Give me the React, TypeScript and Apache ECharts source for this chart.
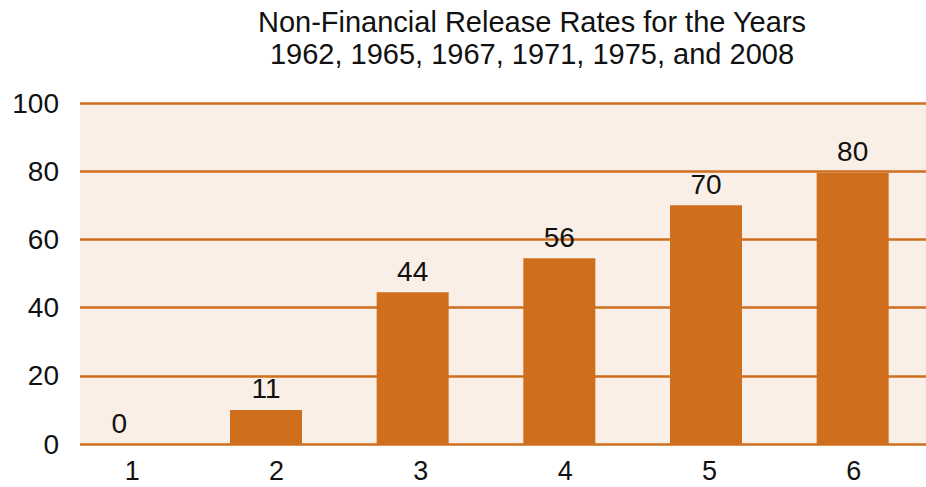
import React, { useEffect, useRef } from "react";
import * as echarts from "echarts";

const categories = ["1", "2", "3", "4", "5", "6"];
const barValues = [0, 10, 44.5, 54.5, 70, 79.5];
const barLabels = ["0", "11", "44", "56", "70", "80"];
const yTicks = [0, 20, 40, 60, 80, 100];
const titleLines = [
  "Non-Financial Release Rates for the Years",
  "1962, 1965, 1967, 1971, 1975, and 2008",
];

const FONT = "'Liberation Sans', 'DejaVu Sans', sans-serif";
const ORANGE = "#cf6e1c";

export default function App() {
  const ref = useRef<HTMLDivElement>(null);
  useEffect(() => {
    if (!ref.current) return;
    const chart = echarts.init(ref.current, null, { renderer: "svg" });
    const option: any = {
      animation: false,
      backgroundColor: "#ffffff",
      title: {
        text: titleLines.join("\n"),
        left: 527,
        top: 1,
        textAlign: "center",
        textStyle: {
          fontFamily: FONT,
          fontSize: 29,
          fontWeight: "normal",
          color: "#111111",
          lineHeight: 32,
        },
      },
      grid: [
        { left: 80, right: 0, top: 103, bottom: 43, show: true, backgroundColor: "#f9efe6", borderWidth: 0 },
        { left: 46, width: 884, top: 103, bottom: 43 },
        { left: 60, width: 870, top: 103, bottom: 43 },
      ],
      xAxis: [
        { type: "category", gridIndex: 0, data: categories, show: false },
        { type: "category", gridIndex: 1, data: categories, show: false },
        {
          type: "category",
          gridIndex: 2,
          data: categories,
          axisLine: { show: false },
          axisTick: { show: false },
          axisLabel: { fontFamily: FONT, fontSize: 27, color: "#111111", margin: 13 },
        },
      ],
      yAxis: [
        {
          type: "value",
          gridIndex: 0,
          min: 0,
          max: 100,
          interval: 20,
          axisLine: { show: false },
          axisTick: { show: false },
          axisLabel: {
            fontFamily: FONT,
            fontSize: 28,
            color: "#111111",
            margin: 21,
            formatter: (v: number) => (yTicks.includes(v) ? String(v) : ""),
          },
          splitLine: { show: true, lineStyle: { color: ORANGE, width: 2.5 } },
        },
        { type: "value", gridIndex: 1, min: 0, max: 100, show: false, splitLine: { show: false } },
        { type: "value", gridIndex: 2, min: 0, max: 100, show: false, splitLine: { show: false } },
      ],
      series: [
        {
          type: "bar",
          xAxisIndex: 1,
          yAxisIndex: 1,
          data: barValues,
          barWidth: 72,
          itemStyle: { color: ORANGE },
          z: 3,
          label: {
            show: true,
            position: "top",
            distance: 7,
            fontFamily: FONT,
            fontSize: 28,
            color: "#111111",
            formatter: (p: any) => barLabels[p.dataIndex],
          },
        },
      ],
    };
    chart.setOption(option);
    return () => chart.dispose();
  }, []);
  return <div ref={ref} style={{ width: 926, height: 487, position: "fixed", left: 0, top: 0 }} />;
}
